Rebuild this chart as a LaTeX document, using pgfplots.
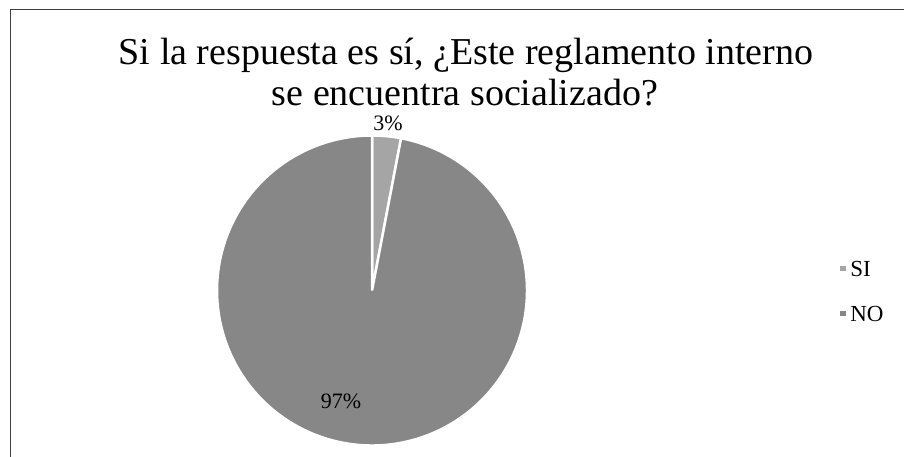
\documentclass[border=0pt]{standalone}
\usepackage{pgfplots}
\usepackage{pgfplotstable}
\pgfplotsset{compat=1.18}
\usepackage{fontspec}
\setmainfont{Liberation Serif}
\definecolor{sicol}{HTML}{A5A5A5}
\definecolor{nocol}{HTML}{878787}
\pgfplotstableread{
label value
SI 3
NO 97
}\piedata
\pgfplotstablegetelem{0}{value}\of\piedata \let\vSI\pgfplotsretval
\pgfplotstablegetelem{1}{value}\of\piedata \let\vNO\pgfplotsretval
\pgfmathsetmacro{\aA}{90}
\pgfmathsetmacro{\aB}{90-3.6*\vSI}
\pgfmathsetmacro{\aC}{\aB-3.6*\vNO}
\begin{document}
\begin{tikzpicture}[x=1pt,y=1pt]
\path[use as bounding box] (0,0) rectangle (904,457);
\draw[line width=1pt, black!75] (10,0) -- (10,447) -- (905,447);
\begin{axis}[
  at={(0pt,0pt)}, anchor=south west,
  scale only axis, width=904pt, height=457pt,
  xmin=-2.4, xmax=3.432, ymin=-1.074, ymax=1.874,
  hide axis, clip=false,
  legend style={draw=none, fill=none, font=\fontsize{23}{26}\selectfont,
    at={(rel axis cs:0.926,0.361)}, anchor=west, row sep=24pt,
    inner sep=0pt, legend cell align=left,
    nodes={inner sep=2pt}},
  legend image code/.code={\fill[#1] (0pt,-3pt) rectangle (8.5pt,5pt);},
]
\addplot[fill=sicol, draw=white, line width=2.5pt, domain=\aB:\aA, samples=40, variable=\t]
  ({cos(\t)},{sin(\t)}) -- (axis cs:0,0) -- cycle;
\addlegendentry{SI}
\addplot[fill=nocol, draw=white, line width=2.5pt, domain=\aC:\aB, samples=200, variable=\t]
  ({cos(\t)},{sin(\t)}) -- (axis cs:0,0) -- cycle;
\addlegendentry{NO}
\node[font=\fontsize{22}{26}\selectfont] at (axis cs:0.103,1.081) {\vSI\%};
\node[font=\fontsize{22}{26}\selectfont] at (axis cs:-0.200,-0.716) {\vNO\%};
\end{axis}
\node[font=\fontsize{38}{42}\selectfont, align=center, anchor=base] at (466,392) {Si la respuesta es sí, ¿Este reglamento interno};
\node[font=\fontsize{38}{42}\selectfont, align=center, anchor=base] at (465,351) {se encuentra socializado?};
\end{tikzpicture}
\end{document}
